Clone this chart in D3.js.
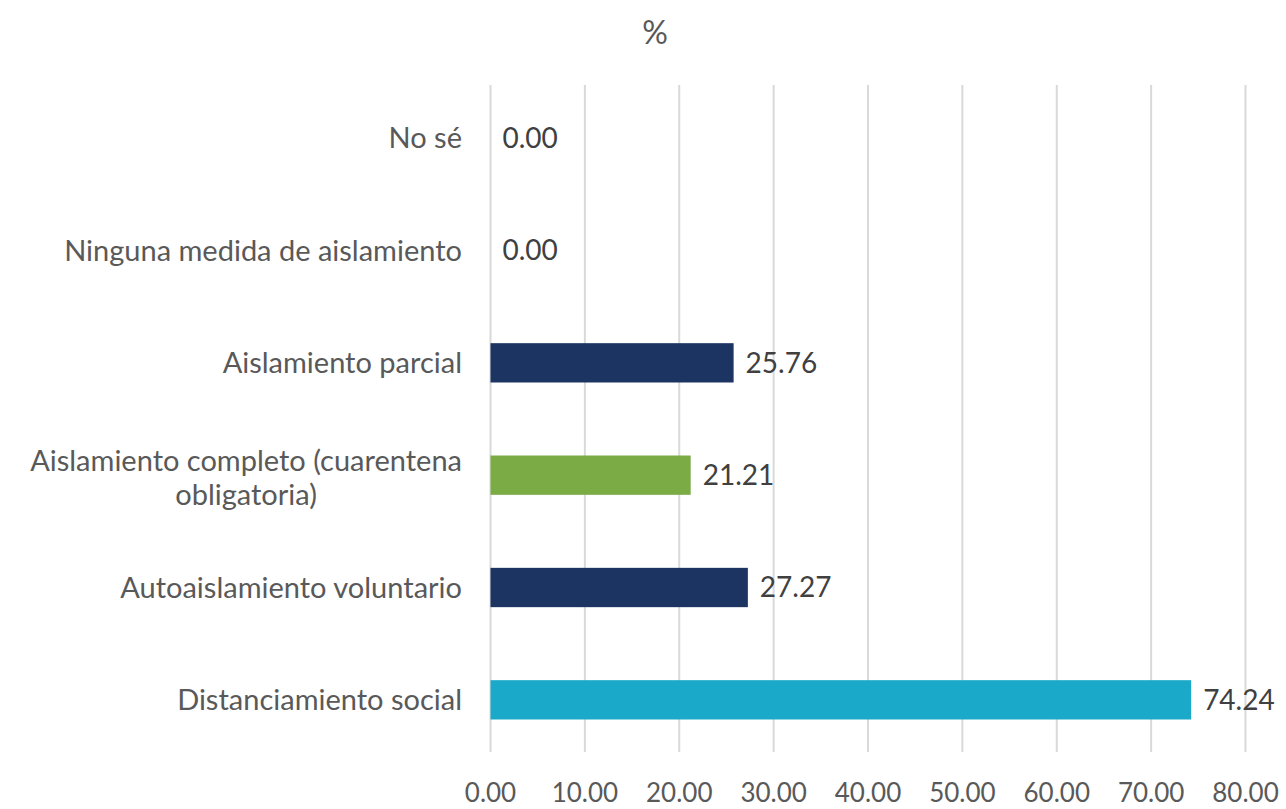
<!DOCTYPE html>
<html>
<head>
<meta charset="utf-8">
<script src="https://cdn.jsdelivr.net/npm/d3@7"></script>
<style>
body { margin: 0; background: #fff; }
text { font-family: Lato, "Open Sans", sans-serif; }
</style>
</head>
<body>
<svg id="chart" width="1286" height="809"></svg>
<script>
var categories = ["No sé", "Ninguna medida de aislamiento", "Aislamiento parcial",
  "Aislamiento completo (cuarentena obligatoria)", "Autoaislamiento voluntario", "Distanciamiento social"]
var values = [0, 0, 25.76, 21.21, 27.27, 74.24]
var colors = ["#1b3461", "#1b3461", "#1b3461", "#7aab45", "#1b3461", "#1ba9ca"]
var ticks = [0, 10, 20, 30, 40, 50, 60, 70, 80]

var svg = d3.select("#chart")

var x = d3.scaleLinear().domain([0, 80]).range([490.5, 1245.5])
var y = d3.scaleBand().domain(categories).range([82, 756]).paddingInner(0.65).paddingOuter(0.325)

// title
svg.append("text").attr("x", 655).attr("y", 44).attr("text-anchor", "middle")
  .style("font-size", "32px").style("fill", "#595959").text("%")

// gridlines
svg.append("g").selectAll("line").data(ticks).join("line")
  .attr("x1", function(d){ return x(d) }).attr("x2", function(d){ return x(d) })
  .attr("y1", 85).attr("y2", 752)
  .style("stroke", "#d9d9d9").style("stroke-width", 2)

// tick labels
svg.append("g").selectAll("text").data(ticks).join("text")
  .attr("x", function(d){ return x(d) }).attr("y", 802)
  .attr("text-anchor", "middle")
  .style("font-size", "26px").style("fill", "#595959")
  .text(function(d){ return d.toFixed(2) })

// bars
svg.append("g").selectAll("rect").data(values).join("rect")
  .attr("x", x(0))
  .attr("y", function(d, i){ return y(categories[i]) })
  .attr("width", function(d){ return x(d) - x(0) })
  .attr("height", y.bandwidth())
  .style("fill", function(d, i){ return colors[i] })

// value labels
svg.append("g").selectAll("text").data(values).join("text")
  .attr("x", function(d){ return x(d) + 12 })
  .attr("y", function(d, i){ return y(categories[i]) + y.bandwidth() / 2 })
  .attr("dy", "0.35em")
  .style("font-size", "28px").style("fill", "#404040")
  .text(function(d){ return d.toFixed(2) })

// category labels
var lab = svg.append("g")
categories.forEach(function(c, i){
  var cy = y(c) + y.bandwidth() / 2
  if (c.indexOf("(") > 0) {
    var lines = ["Aislamiento completo (cuarentena", "obligatoria)"]
    var t = lab.append("text").style("font-size", "29px").style("fill", "#595959")
      .attr("text-anchor", "middle")
    var t0 = t.append("tspan").text(lines[0])
    var w = t0.node().getComputedTextLength()
    var cx = 462 - w / 2
    t0.attr("x", cx).attr("y", cy - 14).attr("dy", "0.35em")
    t.append("tspan").attr("x", cx).attr("y", cy + 20).attr("dy", "0.35em").text(lines[1])
  } else {
    lab.append("text").attr("x", 462).attr("y", cy).attr("dy", "0.35em")
      .attr("text-anchor", "end")
      .style("font-size", "29px").style("fill", "#595959").text(c)
  }
})
</script>
</body>
</html>
